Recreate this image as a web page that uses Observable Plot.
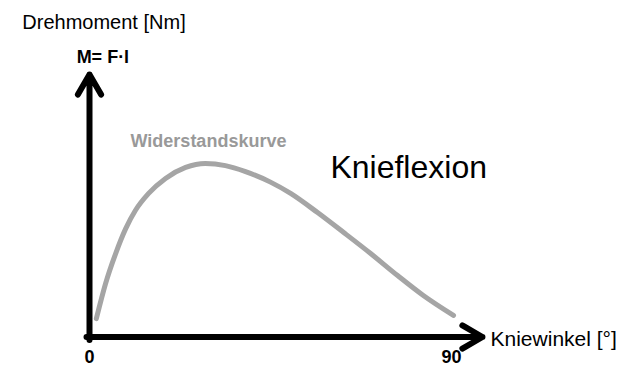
<!DOCTYPE html>
<html><head><meta charset="utf-8">
<script src="https://cdn.jsdelivr.net/npm/d3@7"></script>
<script src="https://cdn.jsdelivr.net/npm/@observablehq/plot@0.6"></script>
<style>body{margin:0;background:#fff}</style>
</head><body><div id="chart"></div>
<script>
// Widerstandskurve (Knieflexion): Kniewinkel [°] vs. Drehmoment (relative units)
const angles  = [1.7, 4.0, 6.5, 9.0, 11.4, 14.7, 18.9, 23.9, 28.8, 33.8, 38.8, 45.0, 50.0, 56.7, 63.2, 69.9, 76.6, 83.0, 90.5];
const moments = [7.0, 20.4, 31.8, 41.3, 48.2, 54.7, 60.4, 64.6, 66.1, 65.3, 63.0, 59.0, 54.7, 47.4, 39.8, 31.8, 23.4, 15.8, 8.2];
const tickValues = [0, 90];
const xAxisEnd = 97.7;   // arrow tip of the angle axis
const yAxisEnd = 100;    // arrow tip of the moment axis
const yAxisTitle = "Drehmoment [Nm]";
const formulaLabel = "M= F·l";
const xAxisTitle = "Kniewinkel [°]";
const curveLabel = "Widerstandskurve";
const chartTitle = "Knieflexion";

const curve = angles.map((a, i) => ({angle: a, moment: moments[i]}));
const font = "'Liberation Sans', Arial, Helvetica, sans-serif";

const chart = Plot.plot({
  width: 617,
  height: 367,
  marginLeft: 89,
  marginRight: 166,
  marginTop: 74,
  marginBottom: 30.5,
  x: {domain: [0, 90], axis: null},
  y: {domain: [0, yAxisEnd], axis: null},
  style: {fontFamily: font, background: "#fff", color: "#000", overflow: "visible"},
  marks: [
    Plot.line(curve, {x: "angle", y: "moment", curve: "monotone-x", stroke: "#a5a5a5", strokeWidth: 5}),
    Plot.arrow([{x1: 0, y1: 0, x2: xAxisEnd, y2: 0}], {x1: "x1", y1: "y1", x2: "x2", y2: "y2",
      stroke: "#000", strokeWidth: 6, headLength: 5.8, headAngle: 60, insetStart: -3, strokeLinejoin: "miter"}),
    Plot.arrow([{x1: 0, y1: 0, x2: 0, y2: yAxisEnd}], {x1: "x1", y1: "y1", x2: "x2", y2: "y2",
      stroke: "#000", strokeWidth: 6, headLength: 5.8, headAngle: 60, insetStart: -3, strokeLinejoin: "miter"}),
    Plot.axisX(tickValues, {tickSize: 0, tickPadding: 13, fontSize: 18, fontWeight: "bold", tickFormat: d => String(d)}),
    Plot.text([yAxisTitle], {x: -16.7, y: 119.7, text: d => d, textAnchor: "start", fontSize: 20, fill: "#000"}),
    Plot.text([formulaLabel], {x: -3.2, y: 106.4, text: d => d, textAnchor: "start", fontSize: 18, fontWeight: "bold", fill: "#000"}),
    Plot.text([curveLabel], {x: 10.2, y: 74.6, text: d => d, textAnchor: "start", fontSize: 18, fontWeight: "bold", fill: "#999"}),
    Plot.text([chartTitle], {x: 59.9, y: 64.3, text: d => d, textAnchor: "start", fontSize: 32, fill: "#000"}),
    Plot.text([xAxisTitle], {x: 99.7, y: -0.8, text: d => d, textAnchor: "start", fontSize: 21, fill: "#000"})
  ]
});
document.getElementById("chart").appendChild(chart);
</script>
</body></html>
